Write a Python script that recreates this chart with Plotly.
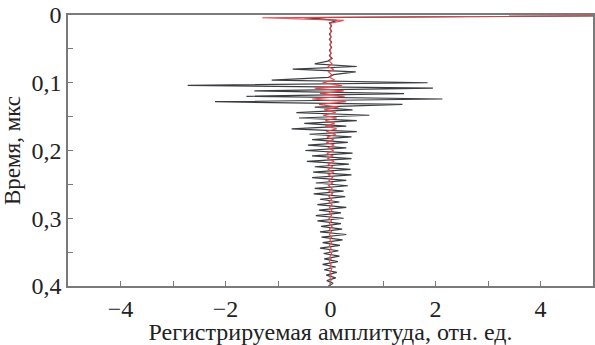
import plotly.graph_objects as go

# sample interval (µs)
dt = 0.004

# recorded amplitude (black trace), one value per sample, t = 0 ... 0.4 µs
black_amp = [
    8.0, -0.5, 0.12, -0.02, 0.02, -0.01, 0.02, -0.02, 0.01, -0.02,
    0.02, -0.01, 0.02, -0.02, 0.01, -0.02, 0.03, -0.05, -0.3, 0.5,
    -0.72, 0.48, 0.06, -0.04, -1.12, 1.85, -2.72, 1.95, -1.45, 1.4,
    -1.6, 2.13, -2.2, 1.37, -0.3, 0.42, -0.65, 0.74, -0.6, 0.5,
    -0.5, 0.3, -0.74, 0.5, -0.4, 0.4, -0.35, 0.33, -0.43, 0.3,
    -0.48, 0.42, -0.35, 0.4, -0.45, 0.35, -0.3, 0.38, -0.33, 0.4,
    -0.35, 0.3, -0.28, 0.33, -0.3, 0.25, -0.32, 0.28, -0.2, 0.17,
    -0.25, 0.3, -0.22, 0.2, -0.28, 0.25, -0.25, 0.2, -0.18, 0.22,
    -0.2, 0.3, -0.17, 0.23, -0.15, 0.18, -0.2, 0.15, -0.13, 0.17,
    -0.12, 0.14, -0.15, 0.1, -0.12, 0.12, -0.08, 0.1, -0.07, 0.05,
    -0.04,
]

# filtered amplitude (red trace)
red_amp = [
    7.5, -1.3, 0.25, 0.0, 0.01, -0.01, 0.01, -0.01, 0.01, -0.01,
    0.01, -0.01, 0.01, -0.01, 0.01, -0.01, 0.01, -0.02, 0.03, -0.05,
    0.06, -0.04, 0.02, -0.02, 0.08, -0.15, 0.22, -0.3, 0.25, -0.2,
    0.27, -0.35, 0.3, -0.22, 0.15, -0.12, 0.1, -0.14, 0.12, -0.1,
    0.08, -0.1, 0.12, -0.08, 0.1, -0.07, 0.06, -0.08, 0.07, -0.05,
    0.06, -0.07, 0.05, -0.06, 0.07, -0.05, 0.04, -0.05, 0.06, -0.04,
    0.04, -0.03, 0.04, -0.04, 0.03, -0.03, 0.04, -0.03, 0.02, -0.03,
    0.03, -0.02, 0.03, -0.02, 0.02, -0.03, 0.02, -0.02, 0.03, -0.02,
    0.02, -0.02, 0.02, -0.01, 0.02, -0.02, 0.01, -0.02, 0.02, -0.01,
    0.01, -0.02, 0.01, -0.01, 0.02, -0.01, 0.01, -0.01, 0.01, -0.01,
    0.0,
]

time_us = [i * dt for i in range(len(black_amp))]

x_tick_vals = [-4, -2, 0, 2, 4]
x_tick_text = ["\u22124", "\u22122", "0", "2", "4"]
y_tick_vals = [0, 0.1, 0.2, 0.3, 0.4]
y_tick_text = ["0", "0,1", "0,2", "0,3", "0,4"]

x_title = "Регистрируемая амплитуда, отн. ед."
y_title = "Время, мкс"

font_family = "'Liberation Serif', 'DejaVu Serif', serif"
axis_color = "#7a7a7a"

fig = go.Figure()
fig.add_trace(go.Scatter(x=black_amp, y=time_us, mode="lines",
                         line=dict(color="#3a3d42", width=1.2),
                         showlegend=False, hoverinfo="skip"))
fig.add_trace(go.Scatter(x=red_amp, y=time_us, mode="lines",
                         line=dict(color="#e8454a", width=1.1),
                         showlegend=False, hoverinfo="skip"))

fig.update_layout(
    width=595, height=345,
    margin=dict(l=68, r=2, t=15, b=59, autoexpand=False),
    paper_bgcolor="white", plot_bgcolor="white",
    font=dict(family=font_family, color="#222222", size=23),
)
fig.update_xaxes(
    range=[-5, 5], showgrid=False, zeroline=False, automargin=False,
    showline=True, linecolor=axis_color, linewidth=1.5, mirror=True,
    tickmode="array", tickvals=x_tick_vals, ticktext=x_tick_text,
    ticks="inside", ticklen=5, tickcolor=axis_color, tickwidth=1,
    minor=dict(dtick=1, tick0=0, ticks="inside", ticklen=5,
               tickcolor=axis_color, tickwidth=1, showgrid=False),
    tickfont=dict(family=font_family, size=24),
    title=dict(text=x_title, font=dict(family=font_family, size=24), standoff=0),
)
fig.update_yaxes(
    range=[0.4, 0], showgrid=False, zeroline=False, automargin=False,
    showline=True, linecolor=axis_color, linewidth=1.5, mirror=True,
    tickmode="array", tickvals=y_tick_vals, ticktext=y_tick_text,
    ticks="inside", ticklen=5, tickcolor=axis_color, tickwidth=1,
    minor=dict(dtick=0.05, tick0=0, ticks="inside", ticklen=5,
               tickcolor=axis_color, tickwidth=1, showgrid=False),
    tickfont=dict(family=font_family, size=24),
    title=dict(text=y_title, font=dict(family=font_family, size=23), standoff=4),
)

fig.write_html("out.html",
               config={"displayModeBar": False},
               post_script="document.body.style.margin='0';document.body.style.padding='0';")
